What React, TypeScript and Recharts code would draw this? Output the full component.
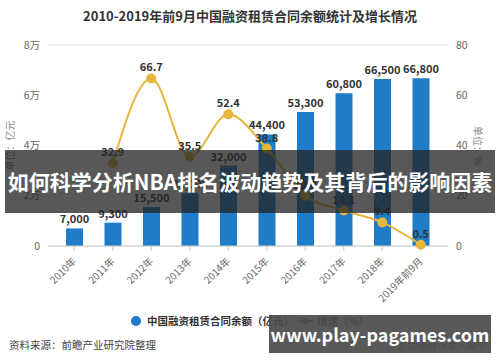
import React from "react";
import { ComposedChart, Bar, Line, XAxis, YAxis, CartesianGrid, LabelList } from "recharts";

const categories = ["2010年", "2011年", "2012年", "2013年", "2014年", "2015年", "2016年", "2017年", "2018年", "2019年前9月"];
const balance = [7000, 9300, 15500, 21000, 32000, 44400, 53300, 60800, 66500, 66800];
const growth: (number | null)[] = [null, 32.9, 66.7, 35.5, 52.4, 38.8, 20.0, 14.1, 9.4, 0.5];
const leftTicks = [0, 20000, 40000, 60000, 80000];
const rightTicks = [0, 20, 40, 60, 80];

const data = categories.map((c, i) => ({ name: c, balance: balance[i], growth: growth[i] }));

const FONT = '"Noto Sans CJK SC", "Noto Sans", sans-serif';
const BLUE = "#1F7CC9";
const GOLD = "#E6B53C";

const XTick = (props: any) => {
  const { x, y, payload } = props;
  return (
    <g transform={`translate(${x},${y + 6})`}>
      <text transform="rotate(-45)" textAnchor="end" fontSize={10} fill="#666" fontFamily={FONT} dy={4}>
        {payload.value}
      </text>
    </g>
  );
};

export default function App() {
  return (
    <div style={{ position: "absolute", left: 0, top: 0, width: 500, height: 362, background: "#fff", fontFamily: FONT, overflow: "hidden" }}>
      <div style={{ position: "absolute", top: 6, left: 0, width: 500, textAlign: "center", fontSize: 13, fontWeight: 700, color: "#333" }}>
        2010-2019年前9月中国融资租赁合同余额统计及增长情况
      </div>
      <ComposedChart width={500} height={362} data={data} margin={{ top: 45, right: 0, left: 0, bottom: 0 }}>
        <CartesianGrid vertical={false} stroke="#e3e3e3" />
        <XAxis
          dataKey="name"
          height={116}
          tick={<XTick />}
          interval={0}
          padding={{ left: 7, right: 8 }}
          axisLine={{ stroke: "#ccc" }}
          tickLine={{ stroke: "#ccc" }}
          tickSize={5}
        />
        <YAxis
          yAxisId="left"
          width={48}
          domain={[0, 80000]}
          ticks={leftTicks}
          axisLine={false}
          tickLine={false}
          tick={{ fontSize: 10.5, fill: "#666", fontFamily: FONT }}
          tickFormatter={(v: number) => (v === 0 ? "0" : `${v / 10000}万`)}
          label={{ value: "单位：亿元", angle: -90, position: "insideLeft", offset: 10, style: { fontSize: 10, fill: "#888", fontFamily: FONT, textAnchor: "middle" } }}
        />
        <YAxis
          yAxisId="right"
          orientation="right"
          width={52}
          domain={[0, 80]}
          ticks={rightTicks}
          axisLine={false}
          tickLine={false}
          tick={{ fontSize: 10.5, fill: "#666", fontFamily: FONT }}
          label={{ value: "单位：%", angle: 90, position: "insideRight", offset: 22, style: { fontSize: 10, fill: "#888", fontFamily: FONT, textAnchor: "middle" } }}
        />
        <Bar yAxisId="left" dataKey="balance" fill={BLUE} barSize={17} isAnimationActive={false}>
          <LabelList
            dataKey="balance"
            position="top"
            offset={5}
            formatter={(v: number) => v.toLocaleString("en-US")}
            style={{ fontSize: 11, fontWeight: 700, fill: "#333", fontFamily: FONT }}
          />
        </Bar>
        <Line
          yAxisId="right"
          type="monotone"
          dataKey="growth"
          stroke={GOLD}
          strokeWidth={2}
          dot={{ r: 4, fill: GOLD, stroke: GOLD }}
          connectNulls={false}
          isAnimationActive={false}
        >
          <LabelList
            dataKey="growth"
            position="top"
            offset={7}
            formatter={(v: number) => (v == null ? "" : v.toFixed(1))}
            style={{ fontSize: 11, fontWeight: 700, fill: "#333", fontFamily: FONT }}
          />
        </Line>
      </ComposedChart>
      {/* legend */}
      <div style={{ position: "absolute", top: 313, left: 0, width: 500, height: 16, fontSize: 10.5, color: "#333", fontWeight: 700 }}>
        <span style={{ position: "absolute", left: 131, top: 3, width: 10, height: 10, borderRadius: 5, background: BLUE }} />
        <span style={{ position: "absolute", left: 147, top: 0 }}>中国融资租赁合同余额（亿元）</span>
        <span style={{ position: "absolute", left: 297, top: 7, width: 16, height: 2, background: "#8a6d1f" }} />
        <span style={{ position: "absolute", left: 302, top: 5, width: 6, height: 6, borderRadius: 3, background: "#8a6d1f" }} />
        <span style={{ position: "absolute", left: 317, top: 0 }}>增速（%）</span>
      </div>
      <div style={{ position: "absolute", top: 337, left: 9, fontSize: 10.5, color: "#444" }}>资料来源：前瞻产业研究院整理</div>
      <div style={{ position: "absolute", top: 338, left: 398, fontSize: 10, color: "#666" }}>@前瞻经济学人APP</div>
      {/* overlays */}
      <div style={{ position: "absolute", top: 150, left: 5, width: 490, height: 63, background: "rgba(35,35,35,0.76)", color: "#fff", fontSize: 21, fontWeight: 700, lineHeight: "63px", textAlign: "center", whiteSpace: "nowrap" }}>
        如何科学分析NBA排名波动趋势及其背后的影响因素
      </div>
      <div style={{ position: "absolute", top: 315, left: 269, width: 222, height: 38, background: "rgba(75,75,75,0.92)", color: "#fff", fontSize: 18, fontWeight: 700, lineHeight: "38px", textAlign: "center", whiteSpace: "nowrap" }}>
        www.play-pagames.com
      </div>
    </div>
  );
}
